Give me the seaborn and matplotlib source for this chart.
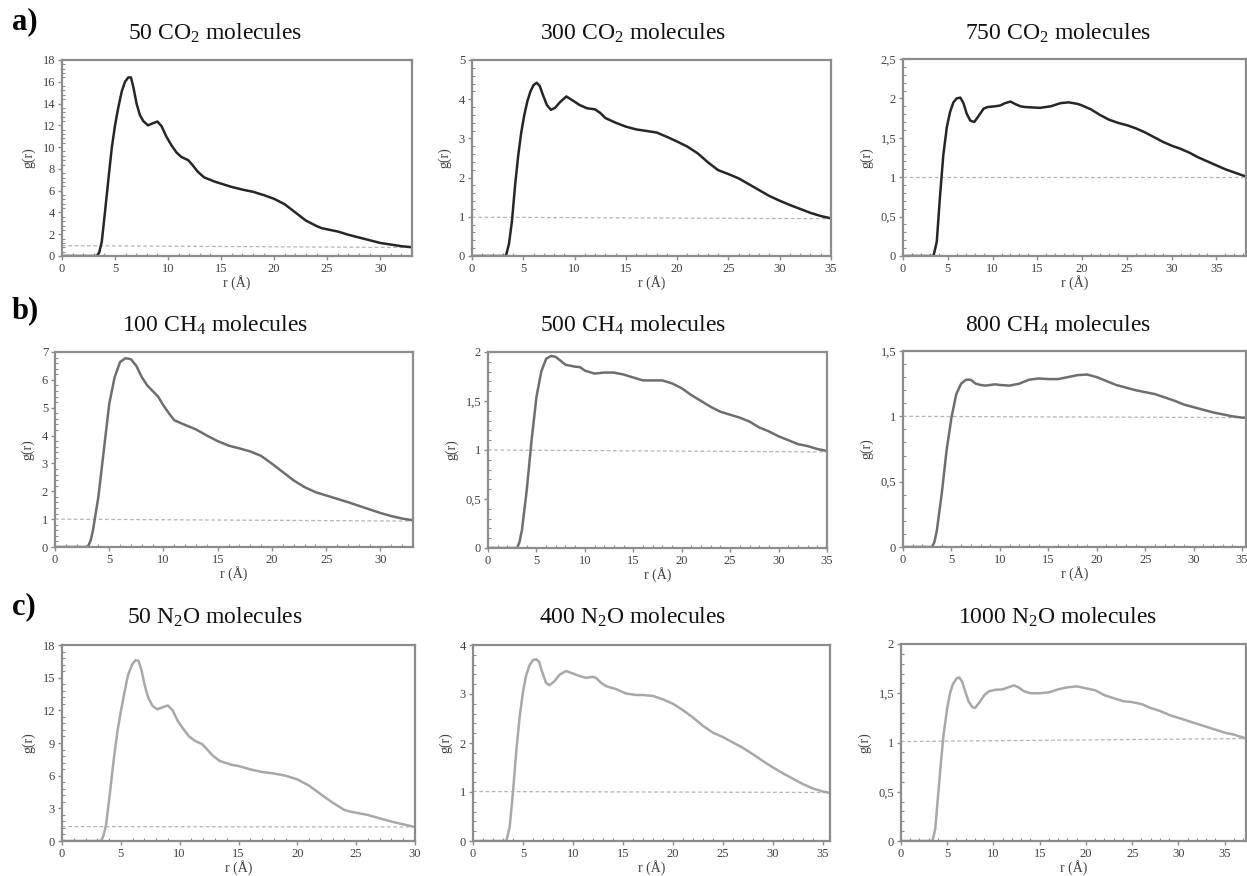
import matplotlib
matplotlib.use("Agg")
import matplotlib.pyplot as plt
import seaborn as sns
from matplotlib.ticker import MultipleLocator, AutoMinorLocator, FuncFormatter

# ---------------- data ----------------
titles = ["50 CO$_2$ molecules", "300 CO$_2$ molecules", "750 CO$_2$ molecules",
          "100 CH$_4$ molecules", "500 CH$_4$ molecules", "800 CH$_4$ molecules",
          "50 N$_2$O molecules", "400 N$_2$O molecules", "1000 N$_2$O molecules"]
row_labels = ["a)", "b)", "c)"]

r_a1 = [0, 3.28, 3.5, 3.75, 4.06, 4.38, 4.69, 5.0, 5.3, 5.63, 5.94, 6.25, 6.5, 6.72, 7.03, 7.34, 7.66, 8.1, 8.6, 9.0,
        9.4, 9.84, 10.3, 10.8, 11.25, 11.9, 12.3, 12.8, 13.4, 14.4, 15.9, 17, 18, 19, 20, 21, 22, 23, 24, 24.5,
        25, 26, 27, 28, 29, 30, 31, 32, 33]
g_a1 = [0, 0, 0.3, 1.3, 4.1, 7.1, 9.9, 12.0, 13.6, 15.1, 16.0, 16.4, 16.4, 15.55, 14.0, 12.95, 12.4, 12.0, 12.2, 12.35,
        11.9, 10.96, 10.2, 9.5, 9.1, 8.8, 8.36, 7.74, 7.22, 6.83, 6.37, 6.1, 5.9, 5.6, 5.25, 4.75, 4.0, 3.25, 2.75, 2.55,
        2.45, 2.25, 1.95, 1.7, 1.45, 1.2, 1.05, 0.9, 0.8]

r_a2 = [0, 3.3, 3.6, 3.9, 4.2, 4.5, 4.8, 5.1, 5.4, 5.7, 6.0, 6.3, 6.6, 6.9, 7.3, 7.7, 8.1, 8.6, 9.2, 9.8, 10.5,
        11.2, 12, 12.5, 13, 14, 15, 16, 17, 18, 19, 20, 21, 22, 23, 24, 25, 26, 27, 28, 29, 30, 31, 32, 33, 34, 35]
g_a2 = [0, 0, 0.3, 0.9, 1.8, 2.55, 3.15, 3.6, 3.95, 4.2, 4.36, 4.42, 4.34, 4.12, 3.85, 3.73, 3.78, 3.93, 4.07, 3.97, 3.85,
        3.77, 3.74, 3.65, 3.52, 3.4, 3.3, 3.23, 3.19, 3.15, 3.04, 2.92, 2.79, 2.62, 2.39, 2.19, 2.09, 1.98, 1.83, 1.68,
        1.53, 1.41, 1.3, 1.2, 1.1, 1.02, 0.96]

r_a3 = [0, 3.4, 3.77, 4.14, 4.5, 4.9, 5.26, 5.63, 6.0, 6.4, 6.75, 7.1, 7.5, 7.95, 8.4, 9.0, 9.44, 10.3, 10.86, 11.4,
        12.0, 12.5, 13.1, 13.66, 15.3, 16.5, 17.6, 18.5, 19.5, 20, 21, 22, 23, 24, 25, 26, 27, 28, 29, 30, 31, 32,
        33, 34, 35, 36, 37, 38, 38.3]
g_a3 = [0, 0, 0.18, 0.77, 1.28, 1.64, 1.83, 1.95, 2.0, 2.01, 1.94, 1.81, 1.72, 1.70, 1.77, 1.87, 1.89, 1.9, 1.91, 1.94,
        1.96, 1.93, 1.9, 1.89, 1.88, 1.9, 1.94, 1.95, 1.93, 1.91, 1.86, 1.79, 1.73, 1.69, 1.66, 1.62, 1.57, 1.51,
        1.45, 1.4, 1.36, 1.31, 1.25, 1.2, 1.15, 1.1, 1.06, 1.02, 1.01]

r_b1 = [0, 2.9, 3.1, 3.3, 3.5, 4, 4.5, 5, 5.5, 6, 6.5, 7, 7.5, 8, 8.5, 9, 9.5, 10, 10.5, 11,
        12, 13, 14, 15, 16, 17, 18, 19, 20, 21, 22, 23, 24, 25, 26, 27, 28, 29, 30, 31, 32, 33]
g_b1 = [0, 0, 0.06, 0.25, 0.6, 1.8, 3.47, 5.14, 6.1, 6.64, 6.78, 6.74, 6.5, 6.1, 5.8, 5.6, 5.4, 5.08, 4.8, 4.55,
        4.38, 4.22, 4.0, 3.8, 3.64, 3.54, 3.43, 3.27, 2.99, 2.69, 2.39, 2.15, 1.97, 1.85, 1.73, 1.61, 1.48, 1.35,
        1.22, 1.11, 1.02, 0.96]

r_b2 = [0, 3.0, 3.25, 3.5, 4, 4.5, 5, 5.5, 6, 6.5, 7, 7.5, 8, 9, 9.5, 10, 11, 12,
        13, 14, 15, 16, 17, 18, 19, 20, 21, 22, 23, 24, 25, 26, 27, 28, 29, 30, 31, 32, 33, 34, 35]
g_b2 = [0, 0, 0.06, 0.18, 0.59, 1.1, 1.54, 1.8, 1.93, 1.96, 1.95, 1.91, 1.87, 1.85, 1.845, 1.81, 1.78, 1.79,
        1.79, 1.77, 1.74, 1.71, 1.71, 1.71, 1.68, 1.63, 1.56, 1.5, 1.44, 1.39, 1.36, 1.33, 1.29, 1.23, 1.19, 1.14,
        1.1, 1.06, 1.04, 1.01, 0.99]

r_b3 = [0, 3.0, 3.25, 3.5, 4, 4.5, 5, 5.5, 6, 6.5, 7, 7.5, 8, 8.5, 9, 9.5, 10,
        11, 12, 13, 14, 15, 16, 17, 18, 19, 20, 21, 22, 23, 24, 25, 26, 27, 28, 29, 30, 31, 32, 33, 34, 35, 35.4]
g_b3 = [0, 0, 0.04, 0.13, 0.41, 0.74, 0.99, 1.17, 1.25, 1.28, 1.28, 1.25, 1.24, 1.235, 1.24, 1.245, 1.24,
        1.235, 1.25, 1.28, 1.29, 1.285, 1.285, 1.3, 1.315, 1.32, 1.3, 1.27, 1.24, 1.22, 1.2, 1.185, 1.17, 1.145,
        1.12, 1.09, 1.07, 1.05, 1.03, 1.015, 1.0, 0.99, 0.99]

r_c1 = [0, 3.3, 3.5, 3.75, 4.05, 4.4, 4.7, 5.0, 5.3, 5.6, 5.95, 6.25, 6.5, 6.75, 7.05, 7.35, 7.7, 8.1, 8.6, 9.0,
        9.4, 9.85, 10.3, 10.8, 11.3, 11.9, 12.3, 12.8, 13.4, 14.4, 15, 16, 17, 18, 19, 20, 21, 22, 23, 24, 24.5,
        25, 26, 27, 28, 29, 30]
g_c1 = [0, 0, 0.4, 1.5, 4.2, 7.5, 10.0, 11.9, 13.6, 15.2, 16.2, 16.6, 16.55, 15.7, 14.2, 13.1, 12.4, 12.1, 12.3, 12.45,
        12.0, 11.0, 10.3, 9.6, 9.2, 8.9, 8.45, 7.85, 7.35, 7.0, 6.89, 6.58, 6.34, 6.2, 6.0, 5.66, 5.08, 4.29, 3.52,
        2.85, 2.7, 2.6, 2.39, 2.08, 1.78, 1.53, 1.29]

r_c2 = [0, 3.34, 3.67, 4.0, 4.34, 4.67, 5.0, 5.33, 5.66, 6.0, 6.32, 6.6, 6.9, 7.3, 7.65, 8.1, 8.64, 9.3, 9.97,
        10.6, 11.3, 11.95, 12.3, 12.8, 13.3, 14.3, 15.3, 16.3, 17, 18, 19, 20, 21, 22, 23, 24, 25, 26, 27, 28, 29,
        30, 31, 32, 33, 34, 35, 35.7]
g_c2 = [0, 0, 0.29, 1.0, 1.86, 2.54, 3.05, 3.39, 3.59, 3.69, 3.71, 3.66, 3.46, 3.23, 3.18, 3.25, 3.39, 3.47, 3.42,
        3.37, 3.33, 3.35, 3.33, 3.23, 3.16, 3.1, 3.01, 2.98, 2.98, 2.96, 2.89, 2.8, 2.67, 2.52, 2.35, 2.21, 2.12,
        2.01, 1.9, 1.77, 1.63, 1.5, 1.38, 1.27, 1.16, 1.07, 1.01, 0.98]

r_c3 = [0, 3.4, 3.7, 4.0, 4.3, 4.6, 5.0, 5.3, 5.6, 6.0, 6.3, 6.6, 6.9, 7.3, 7.7, 8.0, 8.5, 9.0, 9.5, 10.2, 11,
        11.6, 12.2, 12.7, 13.3, 14, 15, 16, 17, 18, 19, 20, 21, 22, 23, 24, 25, 26, 27, 28, 29, 30, 31, 32, 33,
        34, 35, 36, 37, 37.3]
g_c3 = [0, 0, 0.12, 0.45, 0.78, 1.08, 1.35, 1.5, 1.59, 1.65, 1.66, 1.62, 1.53, 1.42, 1.36, 1.35, 1.41, 1.48, 1.52,
        1.535, 1.54, 1.56, 1.58, 1.56, 1.52, 1.5, 1.5, 1.51, 1.54, 1.56, 1.57, 1.55, 1.53, 1.48, 1.45, 1.42, 1.41,
        1.39, 1.35, 1.32, 1.28, 1.25, 1.22, 1.19, 1.16, 1.13, 1.1, 1.08, 1.05, 1.04]

# dashed reference line g values at left / right edges
ref_vals = [[0.95, 0.78], [0.99, 0.95], [1.0, 1.0],
            [1.0, 0.93], [1.0, 0.98], [1.0, 0.99],
            [1.32, 1.29], [1.01, 0.99], [1.01, 1.04]]

x_max = [33, 35, 38.3, 33, 35, 35.4, 30, 35.7, 37.3]
y_max = [18, 5, 2.5, 7, 2, 1.5, 18, 4, 2]
y_step = [2, 1, 0.5, 1, 0.5, 0.5, 3, 1, 0.5]

curves_r = [r_a1, r_a2, r_a3, r_b1, r_b2, r_b3, r_c1, r_c2, r_c3]
curves_g = [g_a1, g_a2, g_a3, g_b1, g_b2, g_b3, g_c1, g_c2, g_c3]

# ---------------- style / layout ----------------
sns.set_theme(style="white")
plt.rcParams['font.family'] = ['Liberation Serif', 'DejaVu Serif']
plt.rcParams['mathtext.default'] = 'regular'

W, H = 1247, 876
row_colors = ["#262626", "#6e6e6e", "#a8a8a8"]
# axes boxes in pixels: left, top, right, bottom
boxes = [(62, 60, 412, 256), (472, 60, 831, 256), (903, 59, 1246, 256),
         (55, 352, 413, 547), (488, 352, 827, 548), (903, 351, 1246, 547),
         (62, 645, 415, 841), (473, 645, 830, 841), (901, 644, 1246, 841)]
title_x = [215, 633, 1058]
title_y = [33, 325, 617]
label_y = [22, 311, 607]

fig = plt.figure(figsize=(W / 100, H / 100), dpi=100)


def comma_fmt(v, pos):
    return f"{v:g}".replace('.', ',')


for i in range(9):
    row, col = divmod(i, 3)
    l, t, r, b = boxes[i]
    ax = fig.add_axes([l / W, 1 - b / H, (r - l) / W, (b - t) / H])
    sns.lineplot(x=[0, x_max[i]], y=ref_vals[i], ax=ax, color="#b5b5b5",
                 linewidth=0.9, linestyle=(0, (3, 2)))
    sns.lineplot(x=curves_r[i], y=curves_g[i], ax=ax, color=row_colors[row],
                 linewidth=1.8, sort=True, solid_joinstyle='round', solid_capstyle='round')
    ax.set_xlim(0, x_max[i])
    ax.set_ylim(0, y_max[i])
    ax.xaxis.set_major_locator(MultipleLocator(5))
    ax.xaxis.set_minor_locator(MultipleLocator(1))
    ax.yaxis.set_major_locator(MultipleLocator(y_step[i]))
    ax.yaxis.set_minor_locator(AutoMinorLocator(5))
    ax.yaxis.set_major_formatter(FuncFormatter(comma_fmt))
    ax.xaxis.set_major_formatter(FuncFormatter(comma_fmt))
    for sp in ax.spines.values():
        sp.set_visible(True)
        sp.set_color("#8c8c8c")
        sp.set_linewidth(1.6)
    ax.tick_params(which='major', direction='out', length=3, width=1, color="#8c8c8c",
                   labelsize=9, labelcolor="#404040", pad=2,
                   bottom=True, left=True, top=False, right=False)
    ax.tick_params(which='minor', direction='in', length=2.5, width=0.8, color="#8c8c8c",
                   bottom=True, left=True, top=False, right=False)
    ax.set_xlabel("r (Å)", fontsize=10, color="#404040", labelpad=0)
    ax.set_ylabel("g(r)", fontsize=10, color="#404040", labelpad=5)
    fig.text(title_x[col] / W, 1 - title_y[row] / H, titles[i],
             ha='center', va='center', fontsize=17, color="#111111")

for row in range(3):
    fig.text(12 / W, 1 - label_y[row] / H, row_labels[row], ha='left', va='center',
             fontsize=22, fontweight='bold', color="#000000")

fig.savefig("out.png", dpi=100)
